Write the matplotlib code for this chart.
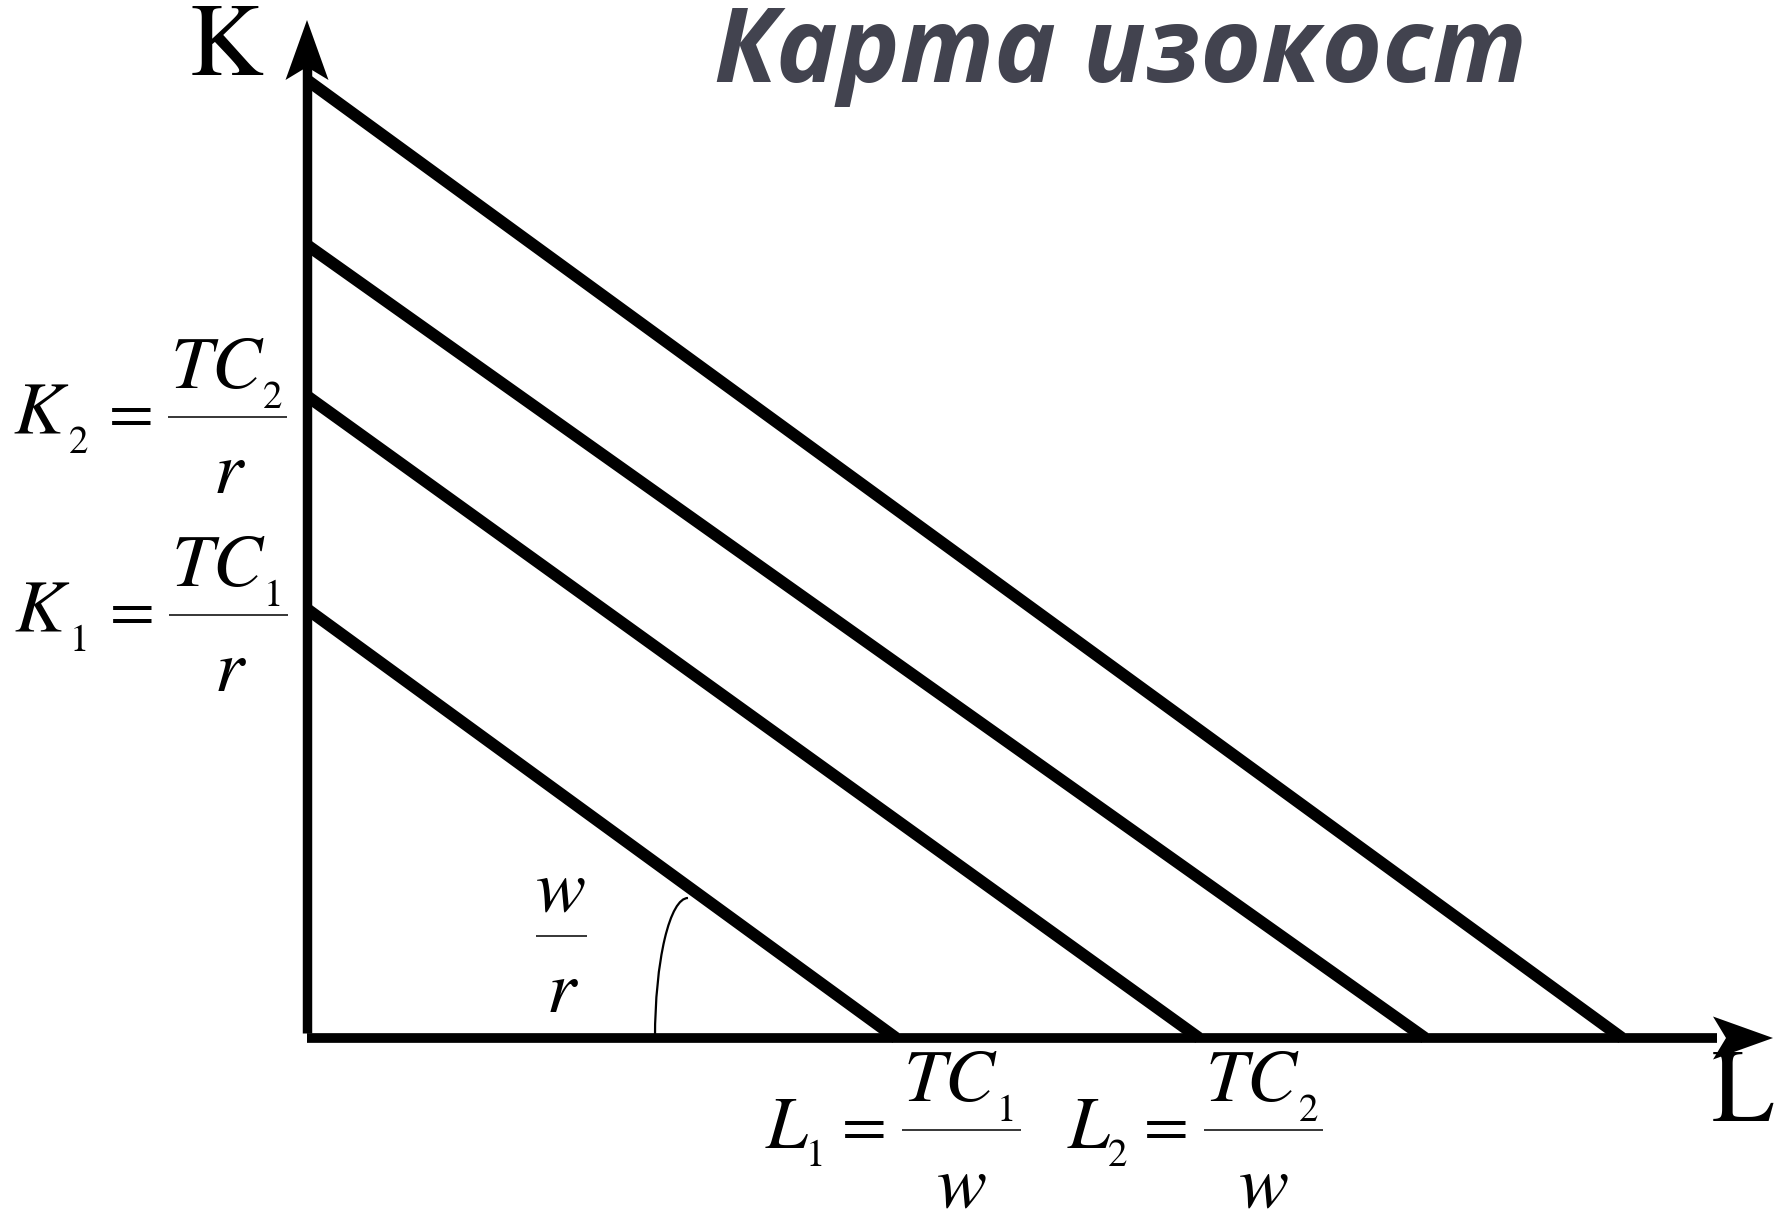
import numpy as np
import matplotlib
matplotlib.use("Agg")
import matplotlib.pyplot as plt
from matplotlib.patches import Polygon, Arc

# isocost lines, bottom to top (1 unit = 100 px of the original picture)
k_intercepts = [4.29, 6.42, 7.93, 9.58]
l_intercepts = [5.89, 8.92, 11.18, 13.15]

title = "Карта изокост"
# (variable, index, numerator, denominator, left x, fraction bar y)
k_labels = [("K", "1", "TC", "r", -2.93, 4.23), ("K", "2", "TC", "r", -2.94, 6.21)]
l_labels = [("L", "1", "TC", "w", 4.59, -0.92), ("L", "2", "TC", "w", 7.61, -0.92)]
slope_label = ("w", "r", 2.54, 1.02)

SERIF = "STIXGeneral"
MAIN = 54
SUB = 28
EQ = 47
PX = 0.01  # one pixel in data units
SUB_SHIFT = {"K": 6, "L": -2}


def arrow_head(ax, tip, direction, length=0.6, half_width=0.215, notch=0.47):
    tip = np.array(tip, dtype=float)
    d = np.array(direction, dtype=float)
    d = d / np.linalg.norm(d)
    n = np.array([-d[1], d[0]])
    back = tip - d * length
    pts = [tip, back + n * half_width, tip - d * notch, back - n * half_width]
    ax.add_patch(Polygon(pts, closed=True, facecolor="black", edgecolor="none", zorder=6))


def width_of(t, renderer):
    bb = t.get_window_extent(renderer)
    return bb.width * PX


def frac_label(ax, renderer, var, sub, num, den, x0, yb):
    base = yb - 18 * PX
    t = ax.text(x0, base, var, family=SERIF, style="italic", fontsize=MAIN, va="baseline")
    x = x0 + width_of(t, renderer) + SUB_SHIFT.get(var, 0) * PX
    t = ax.text(x, base - 18 * PX, sub, family=SERIF, fontsize=SUB, va="baseline")
    x += width_of(t, renderer) + (20 if var == "K" else 17) * PX
    t = ax.text(x, yb - 16 * PX, "=", family=SERIF, fontsize=EQ, va="baseline")
    x += width_of(t, renderer) + 15 * PX
    x_bar = x
    t = ax.text(x + 2 * PX, yb + 29 * PX, num, family=SERIF, style="italic", fontsize=MAIN, va="baseline")
    x = x + 2 * PX + width_of(t, renderer) + 1 * PX
    t = ax.text(x, yb + 9 * PX, sub, family=SERIF, fontsize=SUB, va="baseline")
    x_end = x + width_of(t, renderer) + 5 * PX
    ax.plot([x_bar, x_end], [yb, yb], color="black", lw=1.1, solid_capstyle="butt")
    ax.text((x_bar + x_end) / 2, yb - 76 * PX, den, family=SERIF, style="italic",
            fontsize=MAIN, ha="center", va="baseline")


fig = plt.figure(figsize=(17.85, 12.12), dpi=100)
ax = fig.add_axes([0, 0, 1, 1])
ax.set_xlim(-3.07, 14.78)
ax.set_ylim(-1.74, 10.38)
ax.axis("off")
renderer = fig.canvas.get_renderer()

for k, l in zip(k_intercepts, l_intercepts):
    ax.plot([0, l], [k, 0], color="black", lw=8.6, solid_capstyle="butt", zorder=3)

# axes with arrows
ax.plot([0, 0], [0.05, 9.75], color="black", lw=6.8, solid_capstyle="butt", zorder=5)
ax.plot([0, 14.1], [0, 0], color="black", lw=7.0, solid_capstyle="butt", zorder=5)
arrow_head(ax, (0, 10.18), (0, 1))
arrow_head(ax, (14.66, 0), (1, 0))

ax.text(-0.81, 9.63, "K", fontsize=74, family=SERIF, ha="center", va="baseline")
ax.text(14.36, -0.83, "L", fontsize=74, family=SERIF, ha="center", va="baseline")

for var, sub, num, den, x0, yb in k_labels + l_labels:
    frac_label(ax, renderer, var, sub, num, den, x0, yb)

# slope angle w/r
num, den, xc, yb = slope_label
ax.plot([xc - 0.255, xc + 0.255], [yb, yb], color="black", lw=1.1, solid_capstyle="butt")
ax.text(xc, yb + 26 * PX, num, family=SERIF, style="italic", fontsize=MAIN, ha="center", va="baseline")
ax.text(xc, yb - 76 * PX, den, family=SERIF, style="italic", fontsize=MAIN, ha="center", va="baseline")
ax.add_patch(Arc((3.81, 0), 0.66, 2.8, theta1=90, theta2=180, lw=1.6, color="black", zorder=4))

fig.text(714 / 1785, 1 - 82 / 1212, title, fontsize=75, family="Open Sans",
         fontweight="bold", fontstyle="italic", color="#42434f", ha="left", va="baseline")

fig.savefig("out.png", dpi=100)
